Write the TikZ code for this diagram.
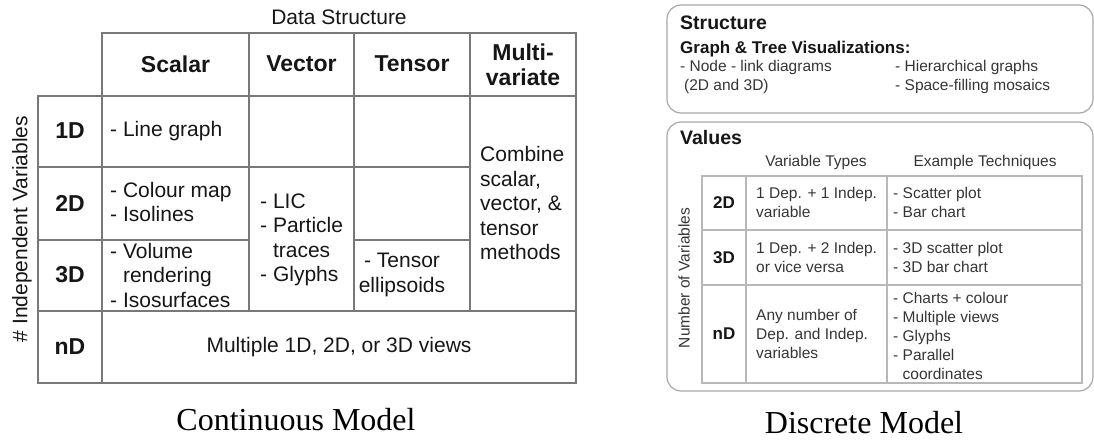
\documentclass[tikz,border=0pt]{standalone}
\usepackage{fontspec}
\setmainfont{Liberation Serif}
\setsansfont{Liberation Sans}

\definecolor{ink}{HTML}{161616}
\definecolor{softink}{HTML}{353535}
\definecolor{rulegray}{HTML}{787878}
\definecolor{lightrule}{HTML}{B8B8B8}
\definecolor{panelgray}{HTML}{A8A8A8}

% font sizes of the two models
\newcommand\cmCell{\sffamily\fontsize{21}{24.5}\selectfont}
\newcommand\cmHead{\sffamily\bfseries\fontsize{23}{26}\selectfont}
\newcommand\dmTitle{\sffamily\bfseries\fontsize{19.5}{22}\selectfont}
\newcommand\dmSub{\sffamily\bfseries\fontsize{17}{20}\selectfont}
\newcommand\dmCell{\sffamily\fontsize{15.5}{19}\selectfont}
\newcommand\dmRow{\sffamily\bfseries\fontsize{17}{20}\selectfont}
\newcommand\capF{\rmfamily\fontsize{32}{36}\selectfont}

\begin{document}
\begin{tikzpicture}[x=1pt,y=-1pt,
  tline/.style={draw=rulegray, line width=1.4pt},
  dline/.style={draw=lightrule, line width=1.2pt},
  panelbox/.style={draw=panelgray, line width=1.2pt, rounded corners=14pt},
  cell/.style={font=\cmCell, inner sep=0pt, align=left, text=ink},
  head/.style={font=\cmHead, inner sep=0pt, align=center, text=ink},
  dcell/.style={font=\dmCell, inner sep=0pt, align=left, text=softink},
  drow/.style={font=\dmRow, inner sep=0pt, text=ink},
  caption/.style={font=\capF, inner sep=0pt, text=black}
]
\useasboundingbox (0,0) rectangle (1094,439);

% ---------------- Continuous model: grid ----------------
\draw[tline] (102,33) rectangle (576,383);
\draw[tline] (38,96) rectangle (102,383);
\draw[tline] (38,96) -- (576,96);
\draw[tline] (249,33) -- (249,311);
\draw[tline] (354,33) -- (354,311);
\draw[tline] (470,33) -- (470,311);
\draw[tline] (38,167) -- (470,167);
\draw[tline] (38,240) -- (249,240);
\draw[tline] (354,240) -- (470,240);
\draw[tline] (38,311) -- (576,311);

% column heads
\node[cell] (ds) at (339,17) {Data Structure};
\node[head] (hscalar) at (175.5,64) {Scalar};
\node[head] (hvector) at (301.5,64) {Vector};
\node[head] (htensor) at (412,64) {Tensor};
\node[head] (hmulti)  at (523,65) {Multi-\\[-1pt]variate};

% row heads
\node[cell, rotate=90] (indep) at (22,229) {\# Independent Variables};
\node[head] (r1) at (70,131) {1D};
\node[head] (r2) at (70,203) {2D};
\node[head] (r3) at (70,275) {3D};
\node[head] (rn) at (70,347) {nD};

% cells
\node[cell, anchor=west] (c1s) at (110,131) {- Line graph};
\node[cell, anchor=west] (c2s) at (110,202) {- Colour map\\- Isolines};
\node[cell, anchor=west] (c3s) at (110,275) {- Volume\\\phantom{- }rendering\\- Isosurfaces};
\node[cell, anchor=west] (cvec) at (260,240) {- LIC\\- Particle\\\phantom{- }traces\\- Glyphs};
\node[cell, align=center] (c3t) at (402,275) {- Tensor\\ellipsoids};
\node[cell, anchor=west] (cmul) at (480,203) {Combine\\scalar,\\vector, \&\\tensor\\methods};
\node[cell] (cnd) at (339,347) {Multiple 1D, 2D, or 3D views};

\node[caption] (capc) at (296,420) {Continuous Model};

% ---------------- Discrete model ----------------
\draw[panelbox] (667,5) rectangle (1093,113);
\draw[panelbox] (667,122) rectangle (1093,391);

\node[font=\dmTitle, inner sep=0pt, anchor=base west, text=ink] (tstruct) at (680,29) {Structure};
\node[font=\dmSub, inner sep=0pt, anchor=base west, text=ink] (tgraph) at (680,53) {Graph \& Tree Visualizations:};
\node[dcell, anchor=base west] (tnode) at (680,71) {- Node - link diagrams};
\node[dcell, anchor=base west] (tnode2) at (684,90) {(2D and 3D)};
\node[dcell, anchor=base west] (thier) at (895,71) {- Hierarchical graphs};
\node[dcell, anchor=base west] (tspace) at (895,90) {- Space-filling mosaics};

\node[font=\dmTitle, inner sep=0pt, anchor=base west, text=ink] (tvalues) at (680,144) {Values};
\node[dcell, anchor=base] (hvar) at (816,166) {Variable Types};
\node[dcell, anchor=base] (hex) at (985,166) {Example Techniques};

% value table grid
\draw[dline] (702,176) rectangle (1082,383);
\draw[dline] (746,176) -- (746,383);
\draw[dline] (887,176) -- (887,383);
\draw[dline] (702,230) -- (1082,230);
\draw[dline] (702,285) -- (1082,285);

\node[dcell, rotate=90] (nvar) at (684,278) {Number of Variables};
\node[drow] (d2) at (724,203) {2D};
\node[drow] (d3) at (724,257.5) {3D};
\node[drow] (dn) at (724,334) {nD};

\node[dcell, anchor=west] (v2) at (756,202.5) {1 Dep. + 1 Indep.\\variable};
\node[dcell, anchor=west] (e2) at (893,202.5) {- Scatter plot\\- Bar chart};
\node[dcell, anchor=west] (v3) at (756,257.5) {1 Dep. + 2 Indep.\\or vice versa};
\node[dcell, anchor=west] (e3) at (893,257.5) {- 3D scatter plot\\- 3D bar chart};
\node[dcell, anchor=west] (vn) at (756,334) {Any number of\\Dep. and Indep.\\variables};
\node[dcell, anchor=west] (en) at (893,336) {- Charts + colour\\- Multiple views\\- Glyphs\\- Parallel\\\phantom{- }coordinates};

\node[caption] (capd) at (864,423) {Discrete Model};
\end{tikzpicture}
\end{document}
